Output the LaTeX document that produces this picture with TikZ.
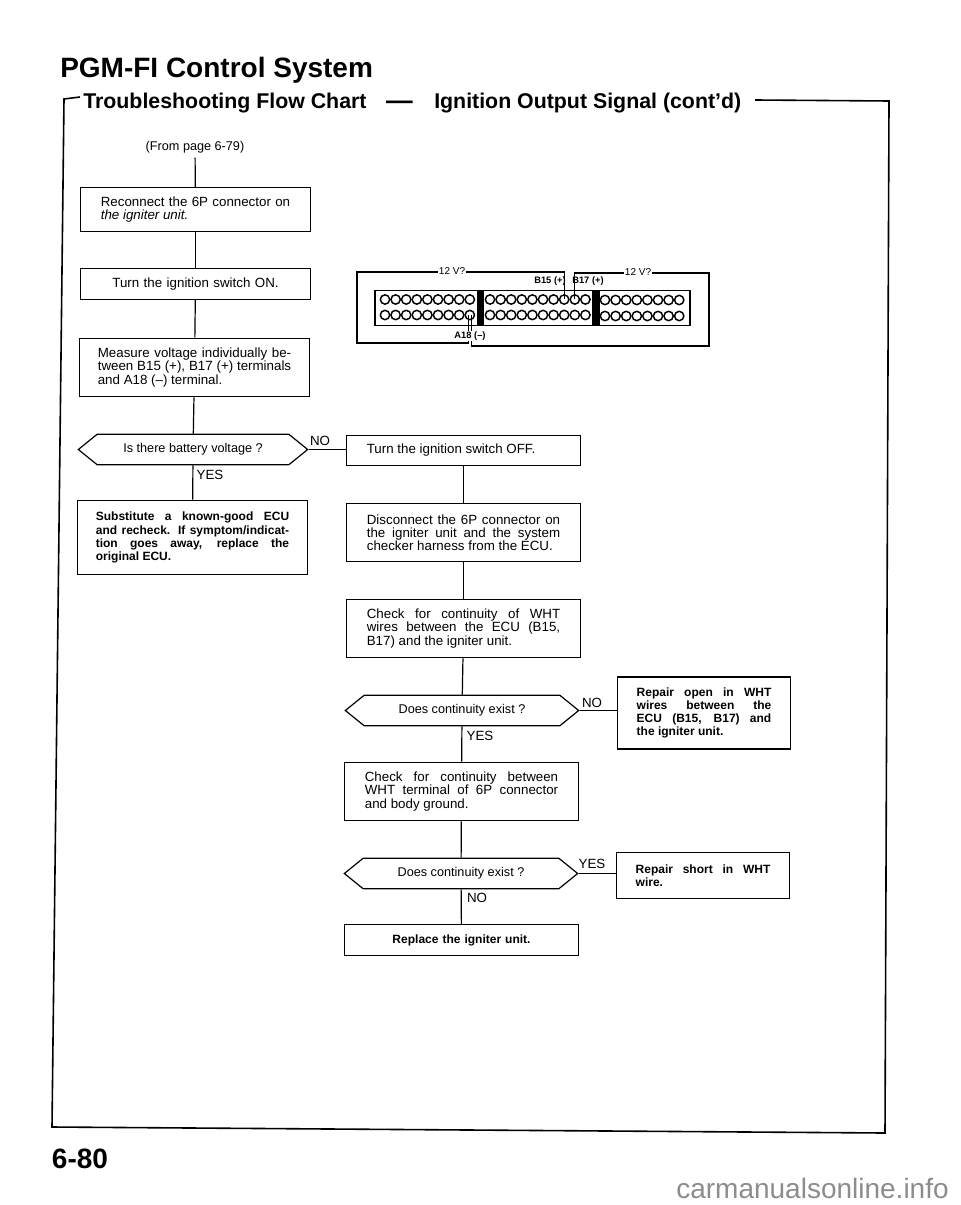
\documentclass[tikz,border=0pt]{standalone}
\usepackage{fontspec}
\setmainfont{Liberation Sans}
\usetikzlibrary{shapes.symbols}
\tikzset{
  flowbox/.style={draw,line width=0.9pt,inner xsep=0pt,inner ysep=0pt,
    font=\fontsize{10}{9.8}\selectfont,align=justify},
  flowbold/.style={flowbox,font=\fontsize{9}{9.8}\selectfont\bfseries},
  choice/.style={draw,line width=0.9pt,signal,signal to=west and east,signal pointer angle=78,
    inner sep=0pt,minimum width=172pt,minimum height=23pt,font=\fontsize{9.5}{10}\selectfont},
  answer/.style={font=\fontsize{10}{10}\selectfont},
  link/.style={line width=0.9pt},
  wire/.style={line width=0.8pt},
  hole/.style={circle,draw,line width=1.1pt,inner sep=0pt,minimum size=7pt},
  pinlabel/.style={inner sep=0.6pt,font=\fontsize{7}{7}\selectfont\bfseries},
  heading/.style={anchor=west,inner sep=0pt,font=\fontsize{16}{18}\selectfont\bfseries},
}
\begin{document}
\begin{tikzpicture}[x=0.75pt,y=-0.75pt]
    \useasboundingbox (0,0) rectangle (960,1205);
    % Headings
    \node[anchor=west,inner sep=0pt,font=\fontsize{21}{24}\selectfont\bfseries] (title) at (60,70) {PGM-FI Control System};
    \node[heading] (flow) at (83,103) {Troubleshooting Flow Chart};
    \node[inner sep=0pt,font=\fontsize{20}{20}\selectfont\bfseries] (dash) at (399.5,105) {---};
    \node[heading] (signal) at (434,103) {Ignition Output Signal (cont'd)};
    % Frame
    \coordinate (fa) at (80,97);
    \coordinate (fb) at (64,99);
    \coordinate (fc) at (52,1127);
    \coordinate (fd) at (885,1133);
    \coordinate (fe) at (889,101);
    \coordinate (ff) at (755,100);
    \draw[line width=1.2pt] (fa) -- (fb) -- (fc) -- (fd) -- (fe) -- (ff);
    % Left column
    \node[font=\fontsize{9.5}{10}\selectfont] (from) at (195,147) {(From page 6-79)};
    \node[flowbox,text width=142pt,minimum width=172pt,minimum height=33pt] (reconnect) at (195.5,209.5)
      {Reconnect the 6P connector on\linebreak \textit{the igniter unit.}};
    \node[flowbox,text width=142pt,minimum width=172pt,minimum height=23pt,align=center] (ignon) at (195.5,284)
      {Turn the ignition switch ON.};
    \node[flowbox,text width=145pt,minimum width=173pt,minimum height=44pt] (measure) at (194.5,367.5)
      {Measure voltage individually be-\linebreak tween B15 (+), B17 (+) terminals\linebreak and A18 (--) terminal.};
    \node[choice] (battery) at (193,449.5) {Is there battery voltage ?};
    \node[flowbold,text width=145pt,minimum width=173pt,minimum height=56pt] (substitute) at (192.5,537.5)
      {Substitute a known-good ECU\linebreak and recheck. If symptom/indicat-\linebreak tion goes away, replace the\linebreak original ECU.};
    % Middle column
    \node[flowbox,text width=145pt,minimum width=175pt,minimum height=23pt] (ignoff) at (463.5,450.5)
      {Turn the ignition switch OFF.};
    \node[flowbox,text width=145pt,minimum width=175pt,minimum height=44pt] (disconnect) at (463.5,532.5)
      {Disconnect the 6P connector on\linebreak the igniter unit and the system\linebreak checker harness from the ECU.};
    \node[flowbox,text width=145pt,minimum width=175pt,minimum height=44pt] (wires) at (463.5,628.5)
      {Check for continuity of WHT\linebreak wires between the ECU (B15,\linebreak B17) and the igniter unit.};
    \node[choice,minimum width=175pt] (exist) at (462,710.5) {Does continuity exist ?};
    \node[flowbox,text width=145pt,minimum width=175pt,minimum height=44pt] (ground) at (461.5,791.5)
      {Check for continuity between\linebreak WHT terminal of 6P connector\linebreak and body ground.};
    \node[choice,minimum width=175pt] (short) at (461,873.5) {Does continuity exist ?};
    \node[flowbold,text width=145pt,minimum width=175pt,minimum height=23pt,align=center] (replace) at (461.5,940)
      {Replace the igniter unit.};
    % Right column
    \node[flowbold,text width=101pt,minimum width=130pt,minimum height=54pt] (repairopen) at (704,713)
      {Repair open in WHT\linebreak wires between the\linebreak ECU (B15, B17) and\linebreak the igniter unit.};
    \node[flowbold,text width=101pt,minimum width=130pt,minimum height=34pt] (repairshort) at (703,875.5)
      {Repair short in WHT\linebreak wire.};
    % Links
    \draw[link] (from) -- (reconnect);
    \draw[link] (reconnect) -- (ignon);
    \draw[link] (ignon) -- (measure);
    \draw[link] (measure) -- (battery);
    \draw[link] (battery) -- (substitute);
    \draw[link] (battery.east) -- (battery.east -| ignoff.west);
    \draw[link] (ignoff) -- (disconnect);
    \draw[link] (disconnect) -- (wires);
    \draw[link] (wires) -- (exist);
    \draw[link] (exist) -- (ground);
    \draw[link] (exist.east) -- (exist.east -| repairopen.west);
    \draw[link] (ground) -- (short);
    \draw[link] (short) -- (replace);
    \draw[link] (short.east) -- (short.east -| repairshort.west);
    % Answers
    \node[answer] (no1) at (320,441) {NO};
    \node[answer] (yes1) at (210,475) {YES};
    \node[answer] (no2) at (592,703) {NO};
    \node[answer] (yes2) at (480,736) {YES};
    \node[answer] (yes3) at (592,864) {YES};
    \node[answer] (no3) at (477,898) {NO};
    % Connector
    \node[draw,line width=1.1pt,minimum width=236pt,minimum height=26pt,inner sep=0pt] (ecu) at (532.5,308) {};
    \fill (477,291) rectangle (484,325);
    \fill (592,291) rectangle (600,325);
    \foreach \i in {0,...,8} {
        \node[hole] (la\i) at ({385+10.6*\i},299.5) {};
        \node[hole] (lb\i) at ({385+10.6*\i},315) {};
    }
    \foreach \i in {0,...,9} {
        \node[hole] (ma\i) at ({490+10.6*\i},299.5) {};
        \node[hole] (mb\i) at ({490+10.6*\i},315) {};
    }
    \foreach \i in {0,...,7} {
        \node[hole] (ra\i) at ({605+10.6*\i},300) {};
        \node[hole] (rb\i) at ({605+10.6*\i},316) {};
    }
    % Test wires
    \coordinate (wa) at (357,272);
    \coordinate (wb) at (357,343);
    \coordinate (wc) at (709,273);
    \coordinate (wd) at (709,346);
    \draw[wire] (lb8.center) ++(-1.5,0) |- (wb) -- (wa) -| (ma7.center);
    \draw[wire] (lb8.center) ++(1.5,0) |- (wd) -- (wc) -| (ma8.center);
    \node[fill=white,inner sep=1pt,font=\fontsize{7.5}{8}\selectfont] (vl) at (452,271) {12 V?};
    \node[fill=white,inner sep=1pt,font=\fontsize{7.5}{8}\selectfont] (vr) at (638,272) {12 V?};
    \node[pinlabel] (b15) at (550,281) {B15 (+)};
    \node[pinlabel] (b17) at (588,281) {B17 (+)};
    \node[pinlabel,fill=white] (a18) at (470,336) {A18 (--)};
    % Page number
    \node[inner sep=0pt,font=\fontsize{21}{24}\selectfont\bfseries] (page) at (80,1159) {6-80};
    \node[inner sep=0pt,text=black!45,font=\fontsize{21}{24}\selectfont] (site) at (812.5,1188) {carmanualsonline.info};
\end{tikzpicture}
\end{document}
